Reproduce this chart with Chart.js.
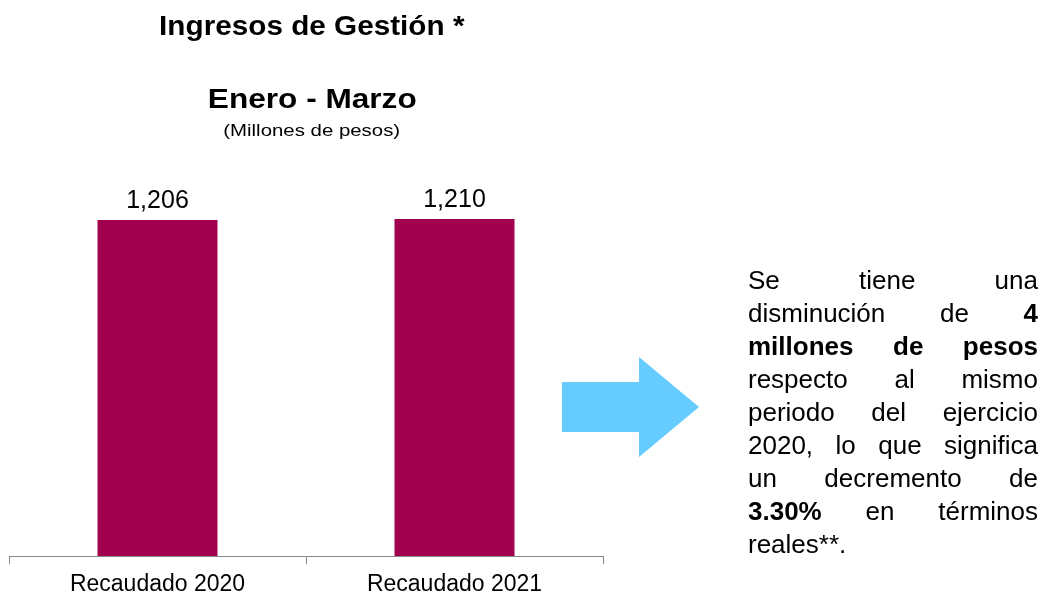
<!DOCTYPE html>
<html>
<head>
<meta charset="utf-8">
<script src="https://cdn.jsdelivr.net/npm/chart.js@4/dist/chart.umd.min.js"></script>
<style>
  html, body { margin: 0; padding: 0; background: #fff; }
  body { width: 1042px; height: 596px; position: relative; overflow: hidden; font-family: "Liberation Sans", Arial, sans-serif; color: #000; }
  #wrap { position: absolute; left: 0; top: 0; width: 612px; height: 596px; }
  .ttl { position: absolute; left: 0; width: 624px; text-align: center; white-space: nowrap; }
  .ttl span { display: inline-block; transform-origin: center; }
  #t1 { top: 13px; font-size: 27px; line-height: 27px; font-weight: bold; }
  #t1 span { transform: scaleX(1.1); }
  #t2 { top: 86px; font-size: 27px; line-height: 27px; font-weight: bold; }
  #t2 span { transform: scaleX(1.17); }
  #t3 { top: 122px; font-size: 17px; line-height: 17px; }
  #t3 span { transform: scaleX(1.2); }
  #para { position: absolute; left: 748px; top: 264px; width: 290px; font-size: 26px; line-height: 33px; }
  #para div { text-align: justify; text-align-last: justify; white-space: nowrap; }
  #para div.last { text-align: left; text-align-last: left; }
  #arrow { position: absolute; left: 0; top: 0; }
</style>
</head>
<body>
<div id="wrap"><canvas id="c"></canvas></div>
<div class="ttl" id="t1"><span>Ingresos de Gestión *</span></div>
<div class="ttl" id="t2"><span>Enero - Marzo</span></div>
<div class="ttl" id="t3"><span>(Millones de pesos)</span></div>
<svg id="arrow" width="1042" height="596"><polygon points="562,382 639,382 639,357 699,407 639,457 639,432 562,432" fill="#66CCFF"/></svg>
<div id="para">
  <div>Se tiene una</div>
  <div>disminución de <b>4</b></div>
  <div><b>millones de pesos</b></div>
  <div>respecto al mismo</div>
  <div>periodo del ejercicio</div>
  <div>2020, lo que significa</div>
  <div>un decremento de</div>
  <div><b>3.30%</b> en términos</div>
  <div class="last">reales**.</div>
</div>
<script>
const categories = ["Recaudado 2020", "Recaudado 2021"];
const values = [1206, 1210];
const valueLabels = ["1,206", "1,210"];

const labelPlugin = {
  id: 'valueLabels',
  afterDatasetsDraw(chart) {
    const ctx = chart.ctx;
    const meta = chart.getDatasetMeta(0);
    ctx.save();
    ctx.font = '25px "Liberation Sans", Arial, sans-serif';
    ctx.fillStyle = '#000';
    ctx.textAlign = 'center';
    ctx.textBaseline = 'alphabetic';
    meta.data.forEach((bar, i) => {
      ctx.fillText(valueLabels[i], bar.x, bar.y - 12);
    });
    ctx.restore();
  }
};

new Chart(document.getElementById('c'), {
  type: 'bar',
  data: {
    labels: categories,
    datasets: [{
      data: values,
      backgroundColor: '#A0004D',
      borderWidth: 0,
      barPercentage: 0.404,
      categoryPercentage: 1.0
    }]
  },
  options: {
    responsive: true,
    maintainAspectRatio: false,
    animation: false,
    layout: { padding: { left: 9, right: 9, top: 166, bottom: 0 } },
    plugins: { legend: { display: false }, tooltip: { enabled: false }, title: { display: false } },
    scales: {
      y: { display: false, min: 0, max: 1400 },
      x: {
        afterFit(scale) { scale.height = 40; },
        grid: { display: true, drawOnChartArea: false, drawTicks: true, tickLength: 8, color: '#868686', lineWidth: 1, offset: true },
        border: { display: true, color: '#868686', width: 1 },
        ticks: { color: '#000', padding: 7, font: { family: '"Liberation Sans", Arial, sans-serif', size: 23 }, maxRotation: 0 }
      }
    }
  },
  plugins: [labelPlugin]
});
</script>
</body>
</html>
